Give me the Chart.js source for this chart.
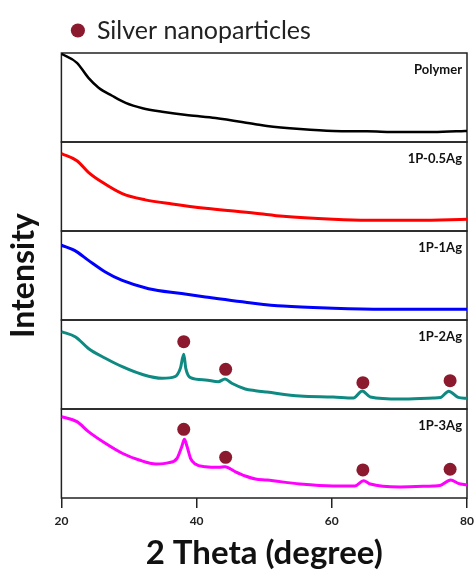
<!DOCTYPE html>
<html>
<head>
<meta charset="utf-8">
<script src="https://cdn.jsdelivr.net/npm/chart.js@4.4.0/dist/chart.umd.min.js"></script>
<style>
  html, body { margin: 0; padding: 0; background: #fff; }
  #wrap { width: 474px; height: 570px; position: relative; }
</style>
</head>
<body>
<div id="wrap"><canvas id="xrdChart"></canvas></div>
<script>
// XRD patterns, one stacked panel per sample (2 theta in degrees, intensity in panel units 0-100)
const panelLabels = ['Polymer', '1P-0.5Ag', '1P-1Ag', '1P-2Ag', '1P-3Ag'];
const xTicks = [20, 40, 60, 80];

const polymerTheta = [20.0, 22.3, 24.0, 25.5, 27.5, 29.5, 32.0, 34.9, 38.8, 42.8, 48.7, 50.4, 55.3, 60.2, 65.2, 70.1, 75.0, 79.7, 80.0];
const polymerCounts = [99, 89, 72, 61, 52, 44, 38, 34, 30, 27, 20, 18, 14.6, 12.4, 12.0, 11.2, 11.2, 12.4, 12.5];

const halfAgTheta = [20.0, 22.3, 24.0, 26.0, 29.0, 32.4, 36.4, 41.3, 48.7, 52.8, 60.2, 65.2, 72.6, 80.0];
const halfAgCounts = [87, 79, 66, 55, 42, 35, 30.4, 25.6, 20, 16.5, 13.2, 12.1, 12.1, 13.2];

const oneAgTheta = [20.0, 22.0, 24.0, 26.5, 29.0, 32.9, 37.8, 41.3, 48.7, 52.8, 60.2, 67.6, 80.0];
const oneAgCounts = [84, 78, 67, 54, 44.4, 35.2, 29.7, 25.9, 18.6, 15.6, 13.3, 12.2, 12.2];

const twoAgTheta = [20.0, 22.1, 24.0, 26.5, 29.0, 31.9, 34.9, 36.8, 37.6, 38.1, 38.4, 39.1, 41.3, 43.2, 44.2, 45.2, 47.2, 48.7, 50.4, 55.3, 60.2, 63.2, 64.5, 65.7, 70.1, 75.0, 76.1, 77.3, 78.7, 80.0];
const twoAgCounts = [87, 81, 68, 57, 47.5, 39, 34.5, 36.3, 45.7, 61.5, 45.7, 35.2, 32.6, 30.7, 33.7, 28.9, 22.5, 20.6, 19, 14.6, 13.5, 12.4, 20.2, 13.5, 11.2, 12.4, 13, 20, 13.1, 12];

const threeAgTheta = [20.0, 22.3, 24.0, 26.5, 29.0, 31.5, 34.0, 35.9, 37.1, 37.8, 38.2, 38.6, 39.1, 39.8, 41.3, 43.3, 44.2, 45.7, 47.2, 48.7, 50.4, 55.3, 60.2, 63.4, 64.7, 65.7, 70.1, 75.0, 76.0, 77.6, 78.7, 80.0];
const threeAgCounts = [91.4, 85.8, 74.6, 61.5, 50.3, 42.7, 38.2, 39.7, 44.6, 57.6, 65.9, 57.6, 44.6, 38.2, 35.2, 34.5, 35.2, 29.6, 24.7, 21.3, 20.2, 15.7, 13.5, 13.5, 19.4, 15.7, 12.4, 13.5, 14, 20.2, 16.5, 14.6];

// silver reflections marked above the peaks
const agPeakTheta = [38.1, 44.3, 64.6, 77.5];
const twoAgMarks = [75.6, 44.6, 29.6, 31.8];
const threeAgMarks = [77.2, 45.7, 31.5, 32.3];

// panel axes, top to bottom
const axisIds = ['yPoly', 'yHalf', 'yOne', 'yTwo', 'yThree'];
const fontFamily = 'Lato, "Open Sans", sans-serif';
const agColor = '#8b1a2e';

function toPoints(xs, ys) {
    return xs.map((x, i) => ({ x: x, y: ys[i] }));
}

function lineSet(label, xs, ys, color, width, axis) {
    return {
        label: label,
        data: toPoints(xs, ys),
        borderColor: color,
        backgroundColor: color,
        borderWidth: width,
        pointRadius: 0,
        cubicInterpolationMode: 'monotone',
        yAxisID: axis
    };
}

function markSet(label, ys, axis) {
    return {
        label: label,
        data: toPoints(agPeakTheta, ys),
        showLine: false,
        pointRadius: 6.5,
        pointStyle: 'circle',
        backgroundColor: agColor,
        borderColor: agColor,
        borderWidth: 0,
        yAxisID: axis
    };
}

const datasets = [
    lineSet('Polymer', polymerTheta, polymerCounts, '#000000', 2.5, 'yPoly'),
    lineSet('1P-0.5Ag', halfAgTheta, halfAgCounts, '#ff0000', 3, 'yHalf'),
    lineSet('1P-1Ag', oneAgTheta, oneAgCounts, '#0000ff', 3, 'yOne'),
    lineSet('1P-2Ag', twoAgTheta, twoAgCounts, '#0f8a82', 3, 'yTwo'),
    lineSet('1P-3Ag', threeAgTheta, threeAgCounts, '#ff00ff', 3, 'yThree'),
    markSet('Silver nanoparticles', twoAgMarks, 'yTwo'),
    markSet('Silver nanoparticles', threeAgMarks, 'yThree')
];

const scales = {
    x: {
        type: 'linear',
        min: 20,
        max: 80,
        afterBuildTicks: axis => { axis.ticks = xTicks.map(v => ({ value: v })); },
        // let the end labels hang over the plot edges, as in the figure
        afterFit: axis => { axis.paddingLeft = 0; axis.paddingRight = 0; },
        ticks: { font: { family: fontFamily, weight: 'bold', size: 12 }, color: '#222', padding: 6 },
        grid: { drawOnChartArea: false, drawTicks: true, tickLength: 10, color: '#222', lineWidth: 1.5 },
        border: { display: false },
        title: {
            display: true,
            text: '2 Theta (degree)',
            font: { family: fontFamily, weight: 'bold', size: 33, lineHeight: 1 },
            color: '#111',
            padding: { top: 2.6, bottom: 0 }
        }
    },
    yTitle: {
        type: 'linear',
        position: 'left',
        weight: 10,
        min: 0,
        max: 1,
        ticks: { display: false },
        grid: { display: false, drawTicks: false },
        border: { display: false },
        title: {
            display: true,
            text: 'Intensity',
            font: { family: fontFamily, weight: 'bold', size: 32 },
            color: '#111',
            padding: { top: 4, bottom: 19 }
        }
    }
};

// stacked boxes are laid out bottom-up in definition order, so add them reversed
axisIds.slice().reverse().forEach(id => {
    scales[id] = {
        type: 'linear',
        position: 'left',
        stack: 'panels',
        stackWeight: 1,
        min: 0,
        max: 100,
        ticks: { display: false },
        grid: { display: false, drawTicks: false },
        border: { display: false }
    };
});

// frames round each panel and the sample name in its corner
const panelFrames = {
    id: 'panelFrames',
    beforeDatasetsDraw(chart) {
        const { ctx, chartArea } = chart;
        ctx.save();
        ctx.strokeStyle = '#222';
        ctx.lineWidth = 1.5;
        axisIds.forEach(id => {
            const s = chart.scales[id];
            ctx.strokeRect(chartArea.left, s.top, chartArea.right - chartArea.left, s.bottom - s.top);
        });
        ctx.restore();
    },
    afterDatasetsDraw(chart) {
        const { ctx, chartArea } = chart;
        ctx.save();
        ctx.font = 'bold 13px ' + fontFamily;
        ctx.textAlign = 'right';
        ctx.textBaseline = 'middle';
        ctx.fillStyle = '#111';
        axisIds.forEach((id, i) => {
            const s = chart.scales[id];
            ctx.fillText(panelLabels[i], chartArea.right - 5, s.top + 17);
        });
        ctx.restore();
    }
};

new Chart(document.getElementById('xrdChart'), {
    type: 'line',
    data: { datasets: datasets },
    options: {
        responsive: true,
        maintainAspectRatio: false,
        animation: false,
        layout: { padding: { top: 8, right: 7, bottom: 0, left: 0 } },
        plugins: {
            legend: {
                position: 'top',
                align: 'start',
                fullSize: false,
                labels: {
                    filter: item => item.datasetIndex === 5,
                    usePointStyle: true,
                    boxWidth: 13,
                    boxHeight: 10,
                    color: '#222',
                    font: { family: fontFamily, size: 25 }
                }
            },
            tooltip: { enabled: false }
        },
        scales: scales
    },
    plugins: [panelFrames]
});
</script>
</body>
</html>
